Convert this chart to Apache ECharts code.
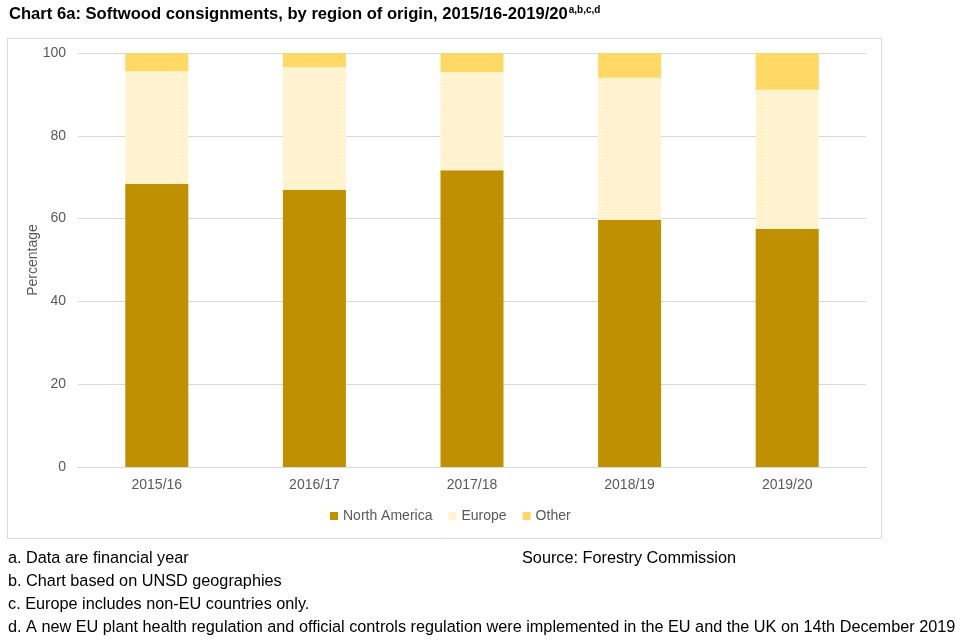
<!DOCTYPE html>
<html><head><meta charset="utf-8">
<script src="https://cdn.jsdelivr.net/npm/echarts@6/dist/echarts.min.js"></script>
<style>html,body{margin:0;padding:0;background:#fff}#c{width:960px;height:640px}</style>
</head><body><div id="c"></div>
<script>
const categories = ['2015/16','2016/17','2017/18','2018/19','2019/20'];
const northAmerica = [68.4, 66.9, 71.7, 59.7, 57.5];
const europe = [27.2, 29.7, 23.7, 34.3, 33.6];
const other = [4.4, 3.4, 4.6, 6.0, 8.9];
const yTicks = [0, 20, 40, 60, 80, 100];
const footnotes = [
  'a. Data are financial year',
  'b. Chart based on UNSD geographies',
  'c. Europe includes non-EU countries only.',
  'd. A new EU plant health regulation and official controls regulation were implemented in the EU and the UK on 14th December 2019'
];
const sourceText = 'Source: Forestry Commission';

const chart = echarts.init(document.getElementById('c'));
const font = 'Liberation Sans, Arial, sans-serif';
const graphics = [
  {type:'rect', shape:{x:7.5,y:38.5,width:874,height:500}, style:{fill:'none', stroke:'#d9d9d9', lineWidth:1}, z:-1}
];
footnotes.forEach((t,i)=>{
  graphics.push({type:'text', left:8, top:551+i*22.7, style:{text:t, fill:'#000', font:'16.25px '+font}});
});
graphics.push({type:'text', left:522, top:551, style:{text:sourceText, fill:'#000', font:'16.25px '+font}});

chart.setOption({
  animation:false,
  title:{
    text:'{t|Chart 6a: Softwood consignments, by region of origin, 2015/16-2019/20}{s|a,b,c,d}',
    left:9, top:5, padding:0,
    textStyle:{rich:{
      t:{fontFamily:font, fontSize:16.6, fontWeight:'bold', color:'#000'},
      s:{fontFamily:font, fontSize:10, fontWeight:'bold', color:'#000', verticalAlign:'top', padding:[0,0,9,1]}
    }}
  },
  legend:{
    data:['North America','Europe','Other'],
    left:325, top:504, itemWidth:8, itemHeight:8, itemGap:16,
    textStyle:{color:'#595959', fontSize:14, fontFamily:font},
    icon:'rect'
  },
  grid:{left:78, right:94, top:53, bottom:173},
  xAxis:{
    type:'category', data:categories,
    axisLine:{lineStyle:{color:'#d9d9d9'}}, axisTick:{show:false},
    axisLabel:{color:'#595959', fontSize:14, fontFamily:font, margin:11}
  },
  yAxis:{
    type:'value', min:0, max:100, interval:20,
    name:'Percentage', nameLocation:'middle', nameGap:38, nameRotate:90, nameMoveOverlap:false,
    nameTextStyle:{color:'#595959', fontSize:14, fontFamily:font},
    axisLine:{show:false}, axisTick:{show:false},
    axisLabel:{color:'#595959', fontSize:14, fontFamily:font, margin:12, formatter:v=>yTicks.includes(v)?String(v):''},
    splitLine:{lineStyle:{color:'#d9d9d9'}}
  },
  series:[
    {name:'North America', type:'bar', stack:'a', data:northAmerica, barWidth:'40%', itemStyle:{color:'#BF9000'}},
    {name:'Europe', type:'bar', stack:'a', data:europe, itemStyle:{color:'#FFF2CC', decal:{symbol:'circle', symbolSize:0.6, dashArrayX:[[1,0],[1,0]], dashArrayY:[3,0], color:'rgba(255,255,255,0.6)'}}},
    {name:'Other', type:'bar', stack:'a', data:other, itemStyle:{color:'#FFD966'}}
  ],
  graphic:graphics
});
</script></body></html>
